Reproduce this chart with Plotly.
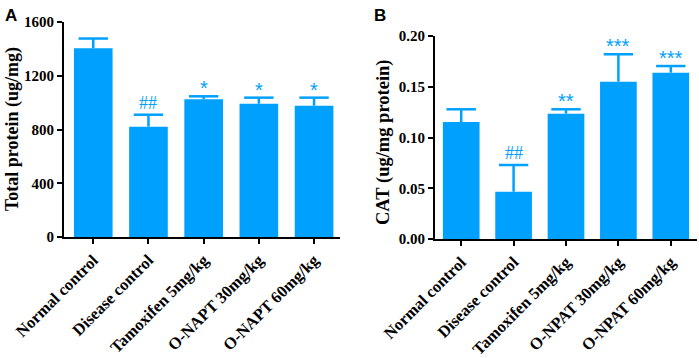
import plotly.graph_objects as go

categories_a = ["Normal control", "Disease control", "Tamoxifen 5mg/kg", "O-NAPT 30mg/kg", "O-NAPT 60mg/kg"]
protein_mean = [1404, 821, 1025, 992, 977]
protein_err = [73, 89, 22, 45, 60]
protein_sig = ["", "##", "*", "*", "*"]

categories_b = ["Normal control", "Disease control", "Tamoxifen 5mg/kg", "O-NPAT 30mg/kg", "O-NPAT 60mg/kg"]
cat_mean = [0.1153, 0.0466, 0.1235, 0.155, 0.1638]
cat_err = [0.0125, 0.0263, 0.0043, 0.027, 0.0066]
cat_sig = ["", "##", "**", "***", "***"]

BLUE = "#00A0FF"
SERIF = "Liberation Serif, Times New Roman, serif"

fig = go.Figure()


def add_panel(cats, means, errs, xa, ya):
    fig.add_trace(go.Bar(
        x=cats, y=means, xaxis=xa, yaxis=ya,
        marker=dict(color=BLUE, line=dict(width=0, color=BLUE)), width=0.7,
        showlegend=False, hoverinfo="skip",
    ))
    tops = [m + e for m, e in zip(means, errs)]
    fig.add_trace(go.Scatter(
        x=cats, y=tops, xaxis=xa, yaxis=ya, mode="markers",
        marker=dict(symbol="line-ew", size=21, color=BLUE,
                    line=dict(width=2.5, color=BLUE)),
        error_y=dict(type="data", symmetric=False, array=[0] * len(errs),
                     arrayminus=errs, color=BLUE, thickness=2.5, width=0),
        showlegend=False, hoverinfo="skip",
    ))


add_panel(categories_a, protein_mean, protein_err, "x", "y")
add_panel(categories_b, cat_mean, cat_err, "x2", "y2")

annotations = []


def add_sig(cats, means, errs, sigs, xr, yr):
    for c, m, e, s in zip(cats, means, errs, sigs):
        if s:
            star = s.startswith("*")
            annotations.append(dict(
                x=c, y=m + e, xref=xr, yref=yr, text=s, showarrow=False,
                yanchor="bottom", yshift=(-5 if star else 0),
                font=dict(family="Arial, Liberation Sans, sans-serif" if star else SERIF,
                          size=20 if star else 18, color=BLUE)))


add_sig(categories_a, protein_mean, protein_err, protein_sig, "x", "y")
add_sig(categories_b, cat_mean, cat_err, cat_sig, "x2", "y2")

annotations += [
    dict(x=3 / 699, y=1 - 4 / 358, xref="paper", yref="paper", text="<b>A</b>",
         showarrow=False, xanchor="left", yanchor="top",
         font=dict(family="Liberation Sans, Arial, sans-serif", size=17, color="black")),
    dict(x=372 / 699, y=1 - 4 / 358, xref="paper", yref="paper", text="<b>B</b>",
         showarrow=False, xanchor="left", yanchor="top",
         font=dict(family="Liberation Sans, Arial, sans-serif", size=17, color="black")),
    dict(x=12 / 699, y=1 - 129 / 358, xref="paper", yref="paper",
         text="<b>Total protein (ug/mg)</b>", showarrow=False, textangle=-90,
         xanchor="center", yanchor="middle",
         font=dict(family=SERIF, size=18, color="black")),
    dict(x=383 / 699, y=1 - 143 / 358, xref="paper", yref="paper",
         text="<b>CAT (ug/mg protein)</b>", showarrow=False, textangle=-90,
         xanchor="center", yanchor="middle",
         font=dict(family=SERIF, size=18.5, color="black")),
]

axis_common = dict(showline=True, linecolor="black", linewidth=2, ticks="outside",
                   tickcolor="black", tickwidth=2, ticklen=5, showgrid=False,
                   zeroline=False, automargin=False)
yfont = dict(family=SERIF, size=15, color="black", weight="bold")
xfont = dict(family=SERIF, size=16.5, color="black", weight="bold")

fig.update_layout(
    width=699, height=358,
    margin=dict(l=0, r=0, t=0, b=0),
    paper_bgcolor="white", plot_bgcolor="white",
    bargap=0.3,
    xaxis=dict(domain=[64 / 699, 340 / 699], range=[-0.53, 4.47], tickangle=-45,
               tickfont=xfont, **axis_common),
    yaxis=dict(domain=[1 - 237 / 358, 1 - 22 / 358], range=[0, 1600],
               tickvals=[0, 400, 800, 1200, 1600], anchor="x", tickfont=yfont,
               **axis_common),
    xaxis2=dict(domain=[435 / 699, 697 / 699], range=[-0.5, 4.5], tickangle=-45,
                anchor="y2", tickfont=xfont, **axis_common),
    yaxis2=dict(domain=[1 - 239 / 358, 1 - 36 / 358], range=[0, 0.2],
                tickvals=[0, 0.05, 0.1, 0.15, 0.2], tickformat=".2f", anchor="x2",
                tickfont=yfont, **axis_common),
    annotations=annotations,
)

fig.write_html("out.html", config={"displayModeBar": False},
               post_script="document.body.style.margin='0px';")
